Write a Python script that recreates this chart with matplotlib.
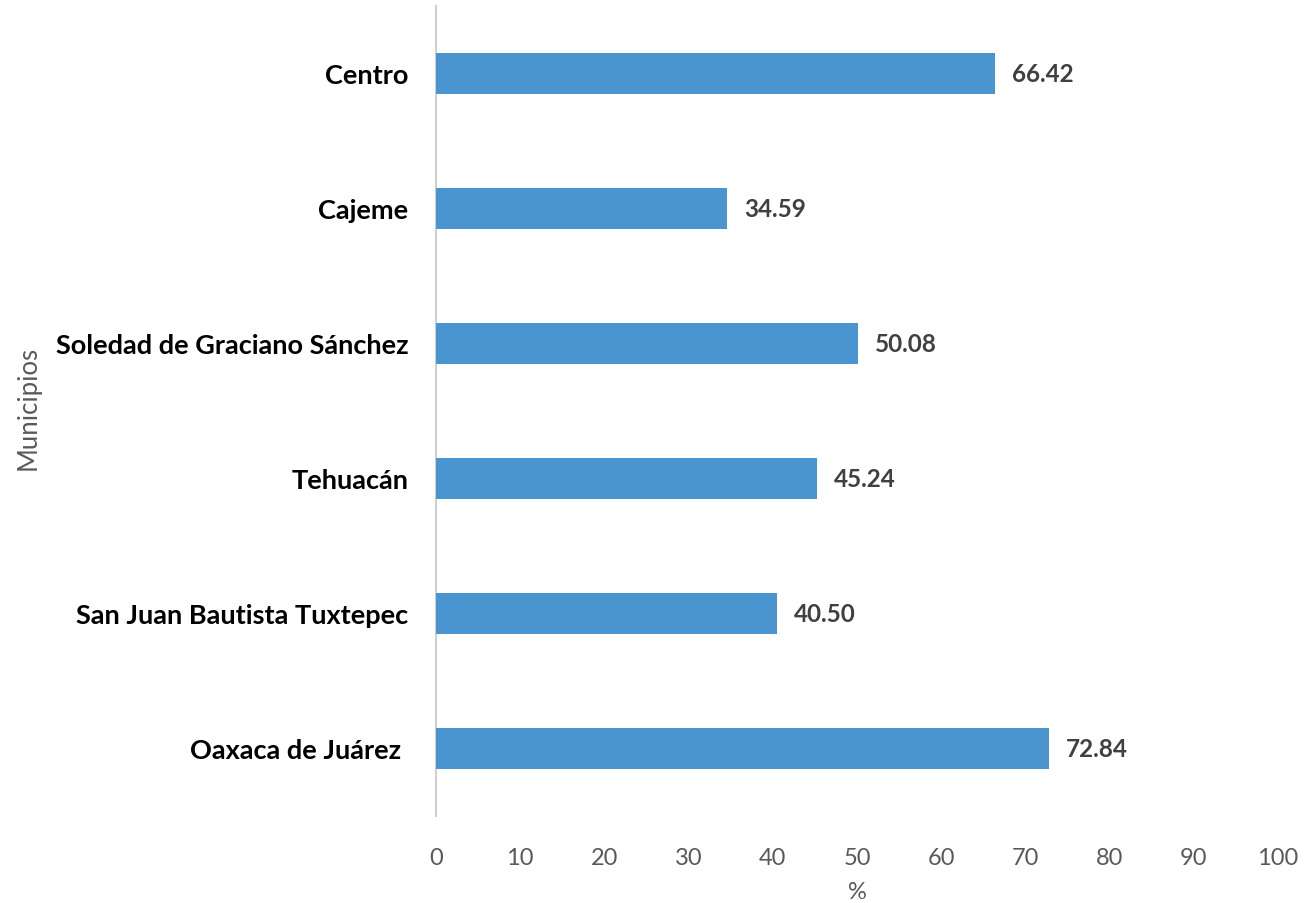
import matplotlib
matplotlib.use("Agg")
import matplotlib.pyplot as plt

# Municipios y porcentajes (de abajo hacia arriba)
municipios = ["Oaxaca de Juárez ", "San Juan Bautista Tuxtepec", "Tehuacán",
              "Soledad de Graciano Sánchez", "Cajeme", "Centro"]
valores = [72.84, 40.50, 45.24, 50.08, 34.59, 66.42]
xticks = list(range(0, 101, 10))

plt.rcParams['font.family'] = ['Lato', 'DejaVu Sans']

fig = plt.figure(figsize=(13.14, 9.04), dpi=100)
ax = fig.add_axes([0.3318, 0.0963, 0.9726 - 0.3318, 0.9923 - 0.0963])

pos = list(range(len(municipios)))
ax.barh(pos, valores, height=0.31, color="#4A95D0", zorder=3)

for y, v in zip(pos, valores):
    ax.text(v + 2.0, y, "%.2f" % v, va="center", ha="left",
            fontsize=17.5, fontweight="bold", color="#404040")

ax.set_xlim(0, 100)
ax.set_ylim(-0.5, len(municipios) - 0.5)
ax.set_xticks(xticks)
ax.set_yticks(pos)
ax.set_yticklabels(municipios, fontsize=19.5, fontweight="bold", color="black")
ax.tick_params(axis="x", length=0, pad=22, labelsize=17, labelcolor="#595959")
ax.tick_params(axis="y", length=0, pad=20)

for s in ["top", "right", "bottom"]:
    ax.spines[s].set_visible(False)
ax.spines["left"].set_color("#D0D0D0")
ax.spines["left"].set_linewidth(1.5)

ax.set_xlabel("%", fontsize=17, color="#595959", labelpad=10)
ax.set_ylabel("Municipios", fontsize=18.5, color="#595959")
ax.yaxis.set_label_coords(-0.47, 0.505, transform=ax.transAxes)

fig.savefig("out.png", dpi=100)
